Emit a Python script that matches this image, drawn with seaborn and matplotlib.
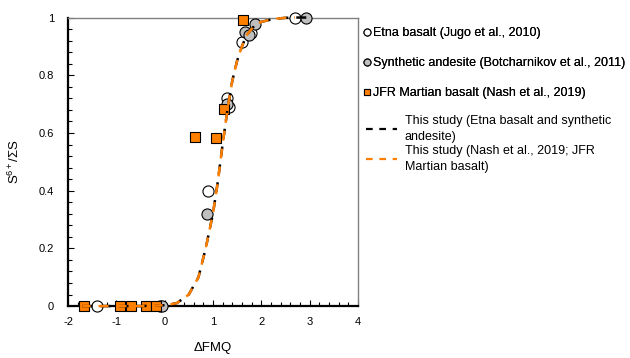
import numpy as np
import pandas as pd
import seaborn as sns
import matplotlib
import matplotlib.pyplot as plt
from matplotlib.lines import Line2D
from matplotlib.ticker import MultipleLocator, FuncFormatter

# ---- data ----
etna_x = [-1.40, -0.10, 0.90, 1.30, 1.33, 1.60, 1.78, 2.70]
etna_y = [0.0, 0.0, 0.40, 0.72, 0.69, 0.915, 0.945, 1.0]

andes_x = [-0.05, 0.87, 1.30, 1.67, 1.75, 1.88, 2.93]
andes_y = [0.0, 0.32, 0.70, 0.95, 0.94, 0.977, 1.0]

jfr_x = [-1.66, -0.92, -0.69, -0.39, -0.17, 0.63, 1.06, 1.23, 1.62]
jfr_y = [0.0, 0.0, 0.0, 0.0, 0.0, 0.587, 0.584, 0.682, 0.99]

fit1_x = [-1.70, -1.0, -0.5, 0.0, 0.25, 0.50, 0.70, 0.85, 1.00, 1.10, 1.20,
          1.30, 1.40, 1.50, 1.60, 1.70, 1.85, 2.00, 2.25, 2.50, 2.70, 2.95]
fit1_y = [0.0, 0.0, 0.0, 0.003, 0.01, 0.04, 0.10, 0.20, 0.32, 0.43, 0.56,
          0.68, 0.78, 0.85, 0.90, 0.94, 0.97, 0.985, 0.995, 0.999, 1.0, 1.0]

fit2_x = [-1.70, -1.0, -0.5, 0.0, 0.25, 0.50, 0.70, 0.85, 1.00, 1.10, 1.20,
          1.30, 1.40, 1.50, 1.60, 1.70, 1.85, 2.00, 2.25, 2.50, 2.70]
fit2_y = [0.0, 0.0, 0.0, 0.003, 0.01, 0.04, 0.10, 0.20, 0.32, 0.43, 0.56,
          0.68, 0.78, 0.85, 0.90, 0.94, 0.97, 0.985, 0.995, 0.999, 1.0]

labels = ["Etna basalt (Jugo et al., 2010)",
          "Synthetic andesite (Botcharnikov et al., 2011)",
          "JFR Martian basalt (Nash et al., 2019)",
          "This study (Etna basalt and synthetic\nandesite)",
          "This study (Nash et al., 2019; JFR\nMartian basalt)"]

x_ticks = [-2, -1, 0, 1, 2, 3, 4]
y_ticks = [0, 0.2, 0.4, 0.6, 0.8, 1.0]

ORANGE = "#FF7F00"
GREY = "#BFBFBF"

sns.set_theme(style="white")
plt.rcParams['font.family'] = ['Liberation Sans', 'DejaVu Sans']
plt.rcParams['axes.unicode_minus'] = False
plt.rcParams['text.color'] = 'black'
plt.rcParams['axes.labelcolor'] = 'black'
plt.rcParams['mathtext.fontset'] = 'custom'
plt.rcParams['mathtext.rm'] = 'Liberation Sans'
plt.rcParams['mathtext.it'] = 'Liberation Sans'
plt.rcParams['mathtext.default'] = 'regular'

fig = plt.figure(figsize=(6.3, 3.58), dpi=100)
ax = fig.add_axes([0.108, 0.145, 0.460, 0.806])

sns.scatterplot(x=etna_x, y=etna_y, ax=ax, marker='o', s=64, color='white',
                edgecolor='black', linewidth=0.8, clip_on=False, zorder=3)
sns.scatterplot(x=andes_x, y=andes_y, ax=ax, marker='o', s=64, color=GREY,
                edgecolor='black', linewidth=0.8, clip_on=False, zorder=4)
sns.scatterplot(x=jfr_x, y=jfr_y, ax=ax, marker='s', s=60, color=ORANGE,
                edgecolor='black', linewidth=0.8, clip_on=False, zorder=5)

sns.lineplot(x=fit1_x, y=fit1_y, ax=ax, sort=False, estimator=None,
             color='black', linewidth=1.8, linestyle=(0, (4, 3.2)),
             clip_on=False, zorder=6)
sns.lineplot(x=fit2_x, y=fit2_y, ax=ax, sort=False, estimator=None,
             color=ORANGE, linewidth=1.8, linestyle=(0.8, (4, 3.2)),
             clip_on=False, zorder=7)

ax.set_xlim(-2, 4)
ax.set_ylim(0, 1)
ax.set_xticks(x_ticks)
ax.set_yticks(y_ticks)
ax.xaxis.set_minor_locator(MultipleLocator(0.2))
ax.yaxis.set_minor_locator(MultipleLocator(0.04))
ax.yaxis.set_major_formatter(FuncFormatter(lambda v, p: f"{v:g}"))
ax.xaxis.set_major_formatter(FuncFormatter(lambda v, p: f"{v:g}"))
ax.tick_params(which='both', direction='in', labelsize=8, colors='black',
               left=True, bottom=True)
ax.tick_params(which='major', length=4, width=0.8)
ax.tick_params(which='minor', length=3, width=0.8)
ax.tick_params(axis='y', which='major', pad=10)
ax.tick_params(axis='x', which='major', pad=8)

for s in ['left', 'bottom']:
    ax.spines[s].set_color('black')
    ax.spines[s].set_linewidth(1.6)
for s in ['top', 'right']:
    ax.spines[s].set_color('#808080')
    ax.spines[s].set_linewidth(1.0)

ax.set_xlabel("ΔFMQ", fontsize=9.5, labelpad=11)
ax.set_ylabel(r"S$^{6+}$/ΣS", fontsize=9.5, labelpad=12)

h1 = [Line2D([], [], marker='o', ls='', mfc='white', mec='black', ms=5, mew=0.8),
      Line2D([], [], marker='o', ls='', mfc=GREY, mec='black', ms=5, mew=0.8),
      Line2D([], [], marker='s', ls='', mfc=ORANGE, mec='black', ms=5, mew=0.8)]
leg1 = fig.legend(h1, labels[:3], loc='upper left',
                  bbox_to_anchor=(364 / 630, 1 - 27 / 358), frameon=False,
                  handlelength=0.5, handletextpad=0.2, labelspacing=1.45,
                  fontsize=9, borderaxespad=0, borderpad=0)
h2 = [Line2D([], [], color='black', lw=1.6, ls=(0, (3, 3))),
      Line2D([], [], color=ORANGE, lw=1.6, ls=(0, (3, 3)))]
leg2 = fig.legend(h2, labels[3:], loc='upper left',
                  bbox_to_anchor=(366 / 630, 1 - 115 / 358), frameon=False,
                  handlelength=2.5, handletextpad=0.6, labelspacing=0.15,
                  fontsize=9, borderaxespad=0, borderpad=0)
for t in leg2.get_texts():
    t.set_linespacing(1.45)
fig.add_artist(leg1)

fig.savefig("out.png", dpi=100)
